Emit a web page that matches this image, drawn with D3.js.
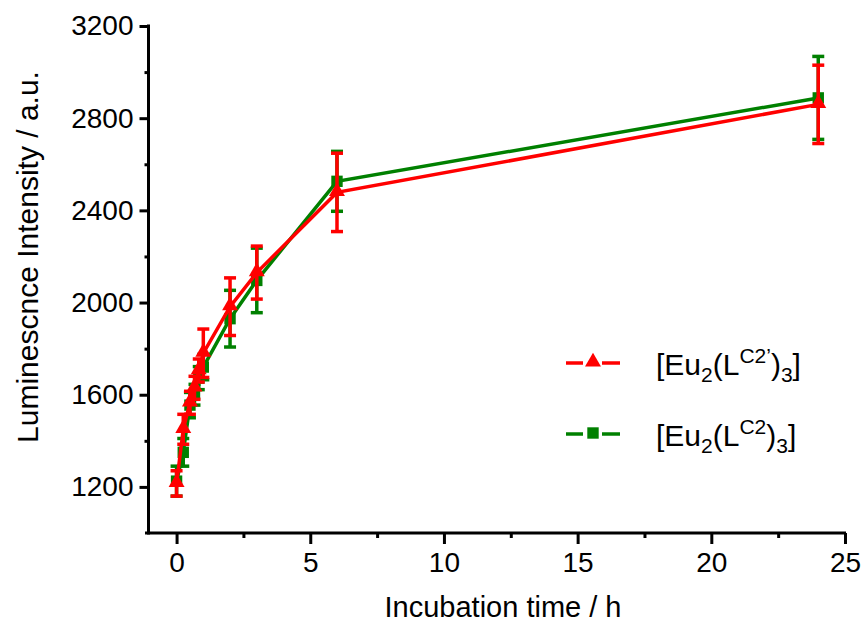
<!DOCTYPE html>
<html>
<head>
<meta charset="utf-8">
<script src="https://cdn.jsdelivr.net/npm/d3@7"></script>
<style>
  body { margin: 0; background: #fff; }
  svg, svg text { font-family: "Liberation Sans", Arial, sans-serif; }
  .axis path, .axis line { stroke: #000; stroke-width: 3px; }
  .axis text { font-size: 28px; fill: #000; font-family: "Liberation Sans", Arial, sans-serif; }
</style>
</head>
<body>
<svg id="svg" width="865" height="625"></svg>
<script>
  // incubation times (h)
  var times = [0, 0.25, 0.5, 0.67, 0.83, 1, 2, 3, 6, 24];

  // [Eu2(LC2')3] - red triangles
  var redVals = [1215, 1450, 1565, 1630, 1705, 1780, 1982, 2130, 2478, 2860];
  var redErr  = [55, 65, 50, 50, 50, 105, 125, 115, 170, 170];

  // [Eu2(LC2)3] - green squares
  var greenVals = [1225, 1350, 1555, 1600, 1672, 1720, 1930, 2096, 2526, 2888];
  var greenErr  = [65, 60, 55, 45, 50, 55, 123, 140, 130, 180];

  var xTicks = [0, 5, 10, 15, 20, 25];
  var xMinor = [2.5, 7.5, 12.5, 17.5, 22.5];
  var yTicks = [1200, 1600, 2000, 2400, 2800, 3200];
  var yMinor = [1400, 1800, 2200, 2600, 3000];

  var svg = d3.select("#svg");

  var x = d3.scaleLinear().domain([-1.05, 25]).range([148.5, 845]);
  var y = d3.scaleLinear().domain([1000, 3200]).range([533, 26]);

  // axes
  svg.append("g")
    .attr("class", "axis")
    .attr("transform", "translate(0,533)")
    .call(d3.axisBottom(x).tickValues(xTicks).tickFormat(d3.format("d")).tickSize(11).tickSizeOuter(0).tickPadding(8))
    .call(function (g) { g.select(".domain").attr("d", "M145,0H846"); });

  svg.append("g")
    .attr("class", "axis")
    .attr("transform", "translate(0,533)")
    .call(d3.axisBottom(x).tickValues(xMinor).tickSize(5).tickFormat(""))
    .call(function (g) { g.select(".domain").remove(); });

  svg.append("g")
    .attr("class", "axis")
    .attr("transform", "translate(148.5,0)")
    .call(d3.axisLeft(y).tickValues(yTicks).tickFormat(d3.format("d")).tickSize(9).tickSizeOuter(0).tickPadding(6))
    .call(function (g) { g.select(".domain").attr("d", "M0,24.5V534.5"); });

  svg.append("g")
    .attr("class", "axis")
    .attr("transform", "translate(148.5,0)")
    .call(d3.axisLeft(y).tickValues(yMinor).tickSize(4).tickFormat(""))
    .call(function (g) { g.select(".domain").remove(); });

  // axis titles
  svg.append("text")
    .attr("x", 503)
    .attr("y", 617)
    .attr("text-anchor", "middle")
    .attr("font-size", "29px")
    .text("Incubation time / h");

  svg.append("text")
    .attr("transform", "translate(38,257) rotate(-90)")
    .attr("text-anchor", "middle")
    .attr("font-size", "30px")
    .text("Luminescnce Intensity / a.u.");

  var triangle = d3.symbol().type(d3.symbolTriangle).size(110);
  var square = d3.symbol().type(d3.symbolSquare).size(130);

  function drawSeries(vals, errs, color, sym, dy) {
    var g = svg.append("g");
    var pts = times.map(function (t, i) { return { t: t, v: vals[i], e: errs[i] }; });

    // error bars
    var eb = g.selectAll(".eb").data(pts).enter().append("g");
    eb.append("line")
      .attr("x1", function (d) { return x(d.t); })
      .attr("x2", function (d) { return x(d.t); })
      .attr("y1", function (d) { return y(d.v - d.e); })
      .attr("y2", function (d) { return y(d.v + d.e); })
      .attr("stroke", color).attr("stroke-width", 3.5);
    eb.append("line")
      .attr("x1", function (d) { return x(d.t) - 6; })
      .attr("x2", function (d) { return x(d.t) + 6; })
      .attr("y1", function (d) { return y(d.v + d.e); })
      .attr("y2", function (d) { return y(d.v + d.e); })
      .attr("stroke", color).attr("stroke-width", 3.5);
    eb.append("line")
      .attr("x1", function (d) { return x(d.t) - 6; })
      .attr("x2", function (d) { return x(d.t) + 6; })
      .attr("y1", function (d) { return y(d.v - d.e); })
      .attr("y2", function (d) { return y(d.v - d.e); })
      .attr("stroke", color).attr("stroke-width", 3.5);

    // line
    g.append("path")
      .datum(pts)
      .attr("fill", "none")
      .attr("stroke", color)
      .attr("stroke-width", 3.5)
      .attr("d", d3.line().x(function (d) { return x(d.t); }).y(function (d) { return y(d.v); }));

    // markers
    g.selectAll(".m").data(pts).enter().append("path")
      .attr("transform", function (d) { return "translate(" + x(d.t) + "," + (y(d.v) + dy) + ")"; })
      .attr("d", sym)
      .attr("fill", color);
  }

  drawSeries(greenVals, greenErr, "#008000", square, 0);
  drawSeries(redVals, redErr, "#ff0000", triangle, -1);

  // legend
  var legend = [
    { color: "#ff0000", sym: triangle, y: 363, sup: "C2\u2019" },
    { color: "#008000", sym: square, y: 434, sup: "C2" }
  ];
  legend.forEach(function (l) {
    var g = svg.append("g");
    g.append("line").attr("x1", 566).attr("x2", 583).attr("y1", l.y).attr("y2", l.y)
      .attr("stroke", l.color).attr("stroke-width", 3.5);
    g.append("line").attr("x1", 602).attr("x2", 620).attr("y1", l.y).attr("y2", l.y)
      .attr("stroke", l.color).attr("stroke-width", 3.5);
    g.append("path").attr("transform", "translate(593," + (l.y - 1) + ")")
      .attr("d", l.sym).attr("fill", l.color);

    var t = g.append("text").attr("x", 656).attr("y", l.y + 12).attr("font-size", "30px");
    t.append("tspan").text("[Eu");
    t.append("tspan").attr("font-size", "21px").attr("dy", 7).text("2");
    t.append("tspan").attr("dy", -7).text("(L");
    t.append("tspan").attr("font-size", "21px").attr("dy", -12).text(l.sup);
    t.append("tspan").attr("dy", 12).text(")");
    t.append("tspan").attr("font-size", "21px").attr("dy", 7).text("3");
    t.append("tspan").attr("dy", -7).text("]");
  });
</script>
</body>
</html>
